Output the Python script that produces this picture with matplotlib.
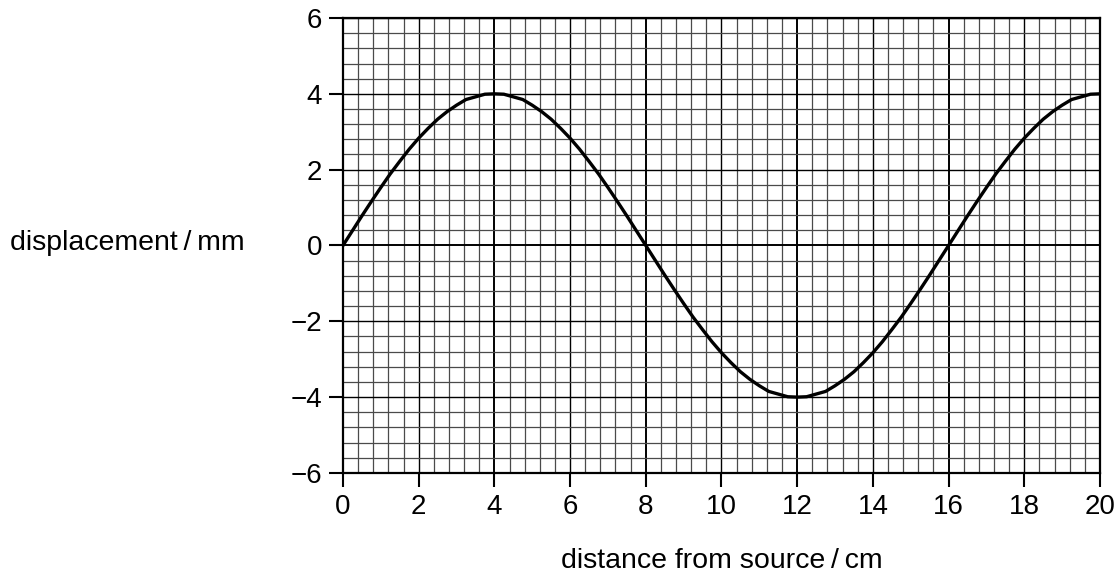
import numpy as np
import matplotlib
matplotlib.use("Agg")
import matplotlib.pyplot as plt

plt.rcParams['font.family'] = ['Liberation Sans', 'DejaVu Sans']

quarter = [0, 0.39, 0.78, 1.16, 1.53, 1.89, 2.22, 2.54, 2.83, 3.09, 3.33,
           3.53, 3.70, 3.85, 3.92, 3.99, 4.0]
# the wave repeats this shape: rise, fall, negative half, rise again
displacement = (quarter + quarter[-2::-1]
                + [-v for v in quarter[1:]] + [-v for v in quarter[-2::-1]]
                + quarter[1:])
distance = [i * 0.25 for i in range(len(displacement))]
xticks = [0, 2, 4, 6, 8, 10, 12, 14, 16, 18, 20]
yticks = [-6, -4, -2, 0, 2, 4, 6]

fig = plt.figure(figsize=(11.19, 5.81), dpi=100)
ax = fig.add_axes([0.3065, 0.186, 0.6765, 0.783])

ax.set_xlim(0, 20)
ax.set_ylim(-6, 6)

# graph paper grid
for xv in np.arange(0, 20.01, 0.4):
    if abs(xv % 4) < 1e-6 or abs(xv % 4 - 4) < 1e-6:
        ax.axvline(xv, color='black', lw=1.4, zorder=1)
    elif abs(xv % 2) < 1e-6 or abs(xv % 2 - 2) < 1e-6:
        ax.axvline(xv, color='black', lw=1.0, zorder=1)
    else:
        ax.axvline(xv, color='#4a4a4a', lw=0.9, zorder=1)
for yv in np.arange(-6, 6.01, 0.4):
    if abs(yv) < 1e-6:
        ax.axhline(yv, color='black', lw=1.4, zorder=1)
    elif abs(yv % 2) < 1e-6 or abs(yv % 2 - 2) < 1e-6:
        ax.axhline(yv, color='black', lw=1.0, zorder=1)
    else:
        ax.axhline(yv, color='#4a4a4a', lw=0.9, zorder=1)

ax.plot(distance, displacement, color='black', lw=2.4, zorder=3,
        solid_joinstyle='round')

ax.set_xticks(xticks)
ax.set_yticks(yticks)
ax.tick_params(direction='out', length=10, width=1.5, labelsize=20, pad=5)
for s in ax.spines.values():
    s.set_linewidth(1.6)

fig.text(0.009, 0.582, 'displacement\u2009/\u2009mm', fontsize=20.5, ha='left', va='center')
fig.text(0.645, 0.012, 'distance from source\u2009/\u2009cm', fontsize=20.5, ha='center', va='bottom')

fig.savefig('out.png', dpi=100)
